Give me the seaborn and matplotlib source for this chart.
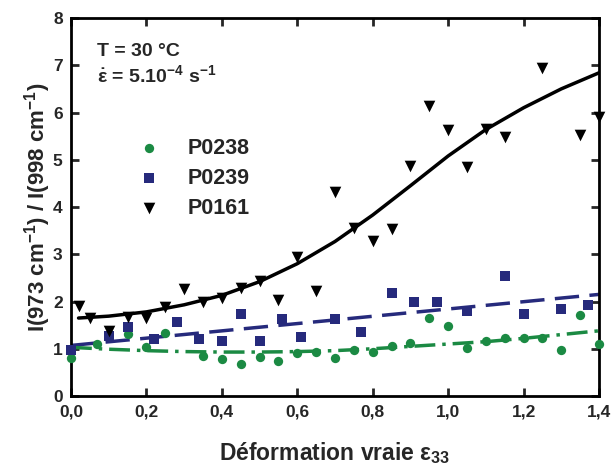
import matplotlib
matplotlib.use("Agg")
import matplotlib.pyplot as plt
import seaborn as sns
import pandas as pd
import numpy as np

# ---- data: measured points ----
p0238_x = [0.00, 0.07, 0.15, 0.20, 0.25, 0.35, 0.40, 0.45, 0.50, 0.55, 0.60, 0.65, 0.70, 0.75,
           0.80, 0.85, 0.90, 0.95, 1.00, 1.05, 1.10, 1.15, 1.20, 1.25, 1.30, 1.35, 1.40]
p0238_y = [0.80, 1.10, 1.31, 1.03, 1.34, 0.85, 0.78, 0.68, 0.82, 0.75, 0.91, 0.93, 0.80, 0.98,
           0.93, 1.05, 1.12, 1.66, 1.49, 1.01, 1.16, 1.23, 1.23, 1.23, 0.97, 1.71, 1.10]

p0239_x = [0.00, 0.10, 0.15, 0.22, 0.28, 0.34, 0.40, 0.45, 0.50, 0.56, 0.61, 0.70, 0.77,
           0.85, 0.91, 0.97, 1.05, 1.15, 1.20, 1.30, 1.37]
p0239_y = [0.98, 1.27, 1.47, 1.20, 1.57, 1.21, 1.16, 1.73, 1.17, 1.63, 1.24, 1.63, 1.36,
           2.17, 1.99, 1.99, 1.80, 2.53, 1.73, 1.85, 1.92]

p0161_x = [0.02, 0.05, 0.10, 0.15, 0.20, 0.25, 0.30, 0.35, 0.40, 0.45, 0.50, 0.55, 0.60, 0.65,
           0.70, 0.75, 0.80, 0.85, 0.90, 0.95, 1.00, 1.05, 1.10, 1.15, 1.25, 1.35, 1.40]
p0161_y = [1.90, 1.66, 1.38, 1.68, 1.66, 1.89, 2.27, 1.99, 2.07, 2.28, 2.44, 2.04, 2.94, 2.23,
           4.31, 3.56, 3.28, 3.54, 4.87, 6.13, 5.63, 4.84, 5.66, 5.48, 6.94, 5.52, 5.90]

# ---- data: fitted curves ----
fit0238_x = [0.0, 0.1, 0.2, 0.3, 0.4, 0.5, 0.6, 0.7, 0.8, 0.9, 1.0, 1.1, 1.2, 1.3, 1.4]
fit0238_y = [1.03, 0.99, 0.96, 0.94, 0.93, 0.93, 0.94, 0.96, 1.00, 1.05, 1.10, 1.15, 1.22, 1.30, 1.38]

fit0239_x = [0.0, 0.35, 0.7, 1.05, 1.4]
fit0239_y = [1.07, 1.34, 1.61, 1.88, 2.15]

fit0161_x = [0.02, 0.1, 0.2, 0.3, 0.4, 0.5, 0.6, 0.7, 0.8, 0.9, 1.0, 1.1, 1.2, 1.3, 1.4]
fit0161_y = [1.65, 1.69, 1.78, 1.93, 2.13, 2.42, 2.80, 3.27, 3.83, 4.45, 5.08, 5.64, 6.10, 6.50, 6.84]

x_ticks = [0.0, 0.2, 0.4, 0.6, 0.8, 1.0, 1.2, 1.4]
x_tick_labels = ["0,0", "0,2", "0,4", "0,6", "0,8", "1,0", "1,2", "1,4"]
y_ticks = [0, 1, 2, 3, 4, 5, 6, 7, 8]

green = "#1b8a43"
navy = "#262a7c"
black = "#000000"

sns.set_theme(style="ticks")
plt.rcParams["font.family"] = ["Liberation Sans", "DejaVu Sans"]
plt.rcParams["font.weight"] = "bold"
plt.rcParams["mathtext.fontset"] = "custom"
plt.rcParams["mathtext.rm"] = "Liberation Sans:bold"
plt.rcParams["mathtext.bf"] = "Liberation Sans:bold"
plt.rcParams["mathtext.it"] = "Liberation Sans:bold"
plt.rcParams["mathtext.default"] = "bf"

fig = plt.figure(figsize=(6.11, 4.69), dpi=100)
ax = fig.add_axes([71 / 611, 1 - 396 / 469, 528 / 611, 378 / 469])

d38 = pd.DataFrame({"x": p0238_x, "y": p0238_y})
d39 = pd.DataFrame({"x": p0239_x, "y": p0239_y})
d61 = pd.DataFrame({"x": p0161_x, "y": p0161_y})
f38 = pd.DataFrame({"x": fit0238_x, "y": fit0238_y})
f39 = pd.DataFrame({"x": fit0239_x, "y": fit0239_y})
f61 = pd.DataFrame({"x": fit0161_x, "y": fit0161_y})

sns.lineplot(data=f61, x="x", y="y", ax=ax, color=black, lw=2.5, zorder=2)
sns.lineplot(data=f39, x="x", y="y", ax=ax, color=navy, lw=2.5, zorder=2,
             linestyle=(0, (7, 3)))
sns.lineplot(data=f38, x="x", y="y", ax=ax, color=green, lw=2.5, zorder=2,
             linestyle=(0, (6, 2, 1, 2)))

sns.scatterplot(data=d38, x="x", y="y", ax=ax, color=green, marker="o", s=45,
                edgecolor=green, linewidth=0, label="P0238", zorder=3, clip_on=False)
sns.scatterplot(data=d39, x="x", y="y", ax=ax, color=navy, marker="s", s=55,
                edgecolor=navy, linewidth=0, label="P0239", zorder=3, clip_on=False)
sns.scatterplot(data=d61, x="x", y="y", ax=ax, color=black, marker="v", s=70,
                edgecolor=black, linewidth=0, label="P0161", zorder=3, clip_on=False)

ax.set_xlim(0, 1.4)
ax.set_ylim(0, 8)
ax.set_xticks(x_ticks)
ax.set_xticklabels(x_tick_labels)
ax.set_yticks(y_ticks)
ax.tick_params(direction="in", length=6, width=2, labelsize=12.5,
               top=True, right=True, pad=6)
for lab in ax.get_xticklabels() + ax.get_yticklabels():
    lab.set_fontweight("bold")
for sp in ax.spines.values():
    sp.set_linewidth(2)
    sp.set_color("black")

ax.set_xlabel("Déformation vraie ε$_{33}$", fontsize=16.5, fontweight="bold", labelpad=15)
ax.set_ylabel("I(973 cm$^{-1}$) / I(998 cm$^{-1}$)", fontsize=16, fontweight="bold", labelpad=0)

ax.text(0.07, 7.30, "T = 30 °C", fontsize=14, fontweight="bold", va="center", ha="left")
ax.text(0.07, 6.78, r"$\dot{ε}$ = 5.10$^{-4}$ s$^{-1}$", fontsize=14, fontweight="bold",
        va="center", ha="left")

leg = ax.legend(loc="upper left", bbox_to_anchor=(0.07, 0.735), frameon=False,
                prop={"size": 15.5, "weight": "bold"}, handletextpad=0.8,
                labelspacing=0.42, markerscale=1.0)

fig.savefig("out.png", dpi=100)
